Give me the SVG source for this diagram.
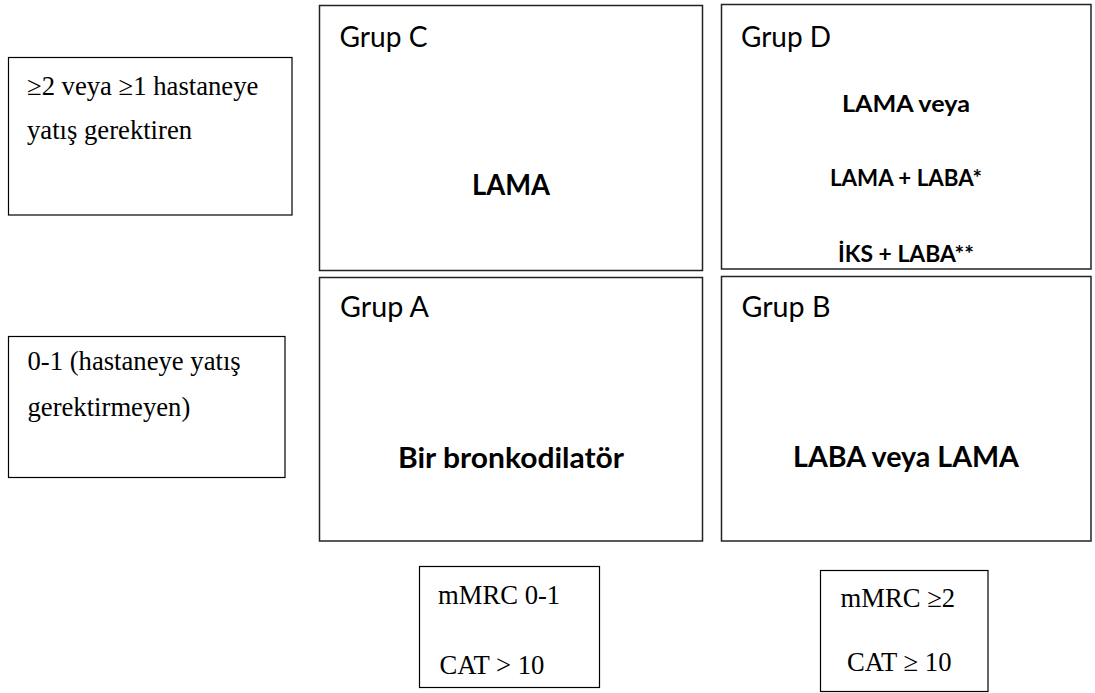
<svg xmlns="http://www.w3.org/2000/svg" width="1095" height="693" viewBox="0 0 1095 693">
<style>
.box{fill:#fff;stroke:#000;stroke-width:1.2}
.grp{fill:#fff;stroke:#222;stroke-width:1.5}
.tm{font-family:"Liberation Serif","Times New Roman",serif;font-size:26.67px;fill:#000}
.lbl{font-family:Lato,"Open Sans",sans-serif;font-size:28.5px;fill:#000}
.bd{font-family:Lato,"Open Sans",sans-serif;font-size:28.5px;font-weight:bold;fill:#000;text-anchor:middle}
.bds{font-family:Lato,"Open Sans",sans-serif;font-size:23.5px;font-weight:bold;fill:#000;text-anchor:middle}
</style>
<rect width="1095" height="693" fill="#fff"/>
<g id="connectors"/>
<g id="row-high">
<rect class="box" x="8.5" y="57.5" width="283.5" height="157.5"/>
<text class="tm" x="27" y="95">≥2 veya ≥1 hastaneye</text>
<text class="tm" x="27" y="139">yatış gerektiren</text>
</g>
<g id="row-low">
<rect class="box" x="8.5" y="336.5" width="276.5" height="141"/>
<text class="tm" x="27.5" y="370">0-1 (hastaneye yatış</text>
<text class="tm" x="27.5" y="416">gerektirmeyen)</text>
</g>
<g id="grup-c">
<rect class="grp" x="319.5" y="5.5" width="383" height="265"/>
<text class="lbl" x="339.5" y="47" textLength="88" lengthAdjust="spacingAndGlyphs">Grup C</text>
<text class="bd" x="511" y="195" textLength="78" lengthAdjust="spacingAndGlyphs">LAMA</text>
</g>
<g id="grup-d">
<rect class="grp" x="721.5" y="4.5" width="369.5" height="264.5"/>
<text class="lbl" x="741" y="47" textLength="90" lengthAdjust="spacingAndGlyphs">Grup D</text>
<text class="bds" x="906" y="112" textLength="128" lengthAdjust="spacingAndGlyphs">LAMA veya</text>
<text class="bds" x="906" y="186" textLength="152" lengthAdjust="spacingAndGlyphs">LAMA + LABA*</text>
<text class="bds" x="906" y="262" textLength="136" lengthAdjust="spacingAndGlyphs">İKS + LABA**</text>
</g>
<g id="grup-a">
<rect class="grp" x="319.5" y="277.5" width="383" height="263.5"/>
<text class="lbl" x="340" y="317" textLength="89" lengthAdjust="spacingAndGlyphs">Grup A</text>
<text class="bd" x="511" y="468" textLength="226" lengthAdjust="spacingAndGlyphs">Bir bronkodilatör</text>
</g>
<g id="grup-b">
<rect class="grp" x="721.5" y="276.5" width="369.5" height="264.5"/>
<text class="lbl" x="741.5" y="317" textLength="89" lengthAdjust="spacingAndGlyphs">Grup B</text>
<text class="bd" x="906" y="467" textLength="226" lengthAdjust="spacingAndGlyphs">LABA veya LAMA</text>
</g>
<g id="mmrc-low">
<rect class="box" x="419.5" y="566.5" width="180" height="121"/>
<text class="tm" x="438" y="604">mMRC 0-1</text>
<text class="tm" x="439.5" y="674">CAT &gt; 10</text>
</g>
<g id="mmrc-high">
<rect class="box" x="820.5" y="570.5" width="167.5" height="121"/>
<text class="tm" x="840.5" y="607">mMRC ≥2</text>
<text class="tm" x="847" y="671">CAT ≥ 10</text>
</g>
</svg>
